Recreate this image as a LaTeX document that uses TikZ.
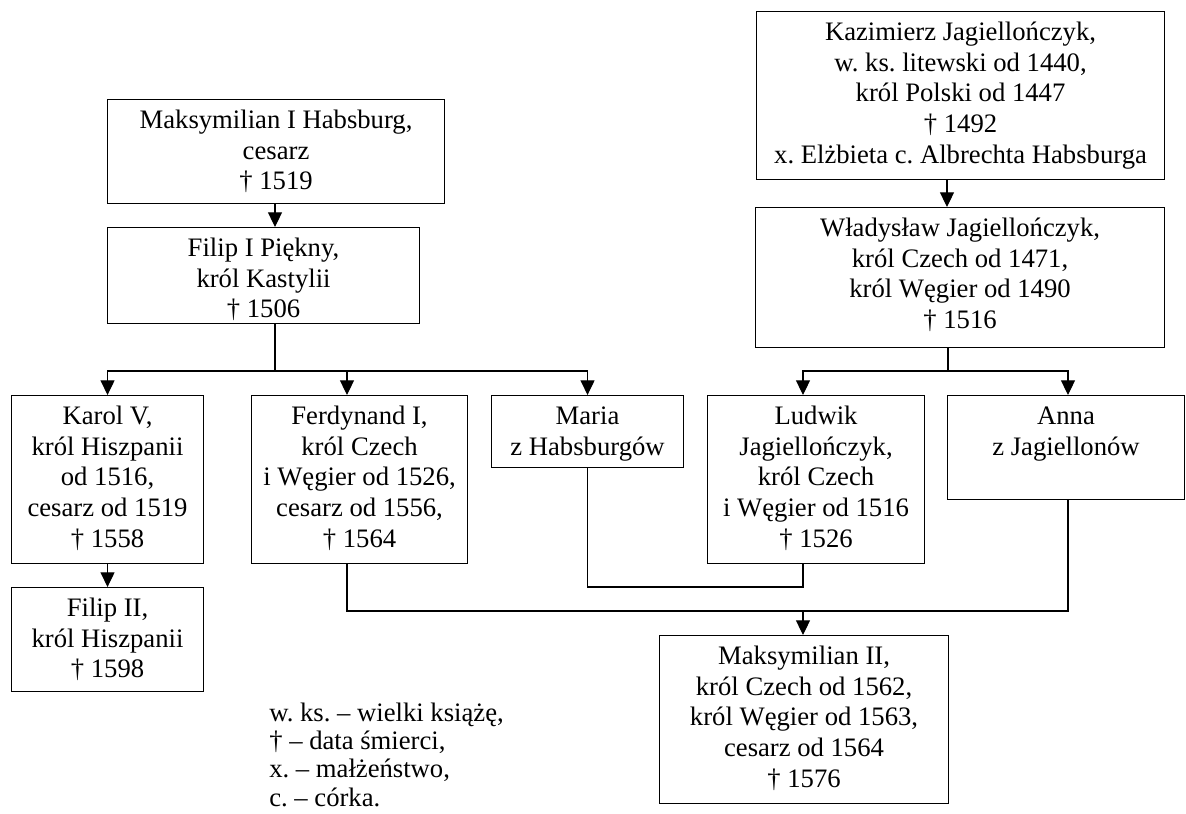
\documentclass[tikz,border=0pt]{standalone}
\usepackage{fontspec}
\setmainfont{Liberation Serif}
\usetikzlibrary{arrows.meta}
\frenchspacing
\newdimen\pxu \pxu=0.75pt
\newcommand\famtext[3]{\parbox[c][#2\pxu][t]{#1\pxu}{\centering\fontsize{20}{23}\selectfont\rule{0pt}{29\pxu}#3}}
\tikzset{
  fam/.style={draw, line width=0.8pt, inner sep=0pt, anchor=north west},
  conn/.style={line width=0.8pt},
  arr/.style={conn, -{Triangle[length=11pt,width=10.5pt]}}
}
\begin{document}
\begin{tikzpicture}[x=0.75pt, y=-0.75pt]
\useasboundingbox (0,0) rectangle (1186,814);

\node[fam] (maks1) at (107,99) {\famtext{337}{104}{Maksymilian I Habsburg,\\cesarz\\† 1519}};
\node[fam] (filip1) at (107,227) {\famtext{312}{96}{Filip I Piękny,\\król Kastylii\\† 1506}};
\node[fam] (kaz) at (756,11) {\famtext{408}{168}{Kazimierz Jagiellończyk,\\w. ks. litewski od 1440,\\król Polski od 1447\\† 1492\\x. Elżbieta c. Albrechta Habsburga}};
\node[fam] (wlad) at (755,207) {\famtext{409}{140}{Władysław Jagiellończyk,\\król Czech od 1471,\\król Węgier od 1490\\† 1516}};
\node[fam] (karol) at (11,395) {\famtext{192}{168}{Karol V,\\król Hiszpanii\\od 1516,\\cesarz od 1519\\† 1558}};
\node[fam] (ferd) at (251,395) {\famtext{216}{168}{Ferdynand I,\\król Czech\\i Węgier od 1526,\\cesarz od 1556,\\† 1564}};
\node[fam] (maria) at (491,395) {\famtext{192}{72}{Maria\\z Habsburgów}};
\node[fam] (ludwik) at (707,395) {\famtext{217}{168}{Ludwik\\Jagiellończyk,\\król Czech\\i Węgier od 1516\\† 1526}};
\node[fam] (anna) at (947,395) {\famtext{237}{104}{Anna\\z Jagiellonów}};
\node[fam] (filip2) at (11,587) {\famtext{192}{104}{Filip II,\\król Hiszpanii\\† 1598}};
\node[fam] (maks2) at (659,635) {\famtext{289}{168}{Maksymilian II,\\król Czech od 1562,\\król Węgier od 1563,\\cesarz od 1564\\† 1576}};

\node[inner sep=0pt, anchor=north west] (legend) at (269,700) {\parbox[t]{320\pxu}{\fontsize{20}{21.25}\selectfont\rule{0pt}{21\pxu}w. ks. – wielki książę,\\† – data śmierci,\\x. – małżeństwo,\\c. – córka.}};

\coordinate (xm) at (275,0);
\coordinate (xf) at (347,0);
\coordinate (xk) at (947,0);
\coordinate (xl) at (803,0);
\coordinate (xa) at (1068,0);
\coordinate (j1) at (275,371);
\coordinate (j2) at (948,371);
\coordinate (j3) at (0,587);
\coordinate (j4) at (0,611);

\draw[arr] (maks1.south -| xm) -- (filip1.north -| xm);
\draw[arr] (kaz.south -| xk) -- (wlad.north -| xk);

\draw[conn] (filip1.south -| j1) -- (j1);
\draw[arr] (j1) -| (karol.north);
\draw[arr] (j1) -| (ferd.north -| xf);
\draw[arr] (j1) -| (maria.north);

\draw[conn] (wlad.south -| j2) -- (j2);
\draw[arr] (j2) -| (ludwik.north -| xl);
\draw[arr] (j2) -| (anna.north -| xa);

\draw[arr] (karol.south) -- (filip2.north);

\draw[conn] (maria.south) -- (maria.south |- j3) -| (ludwik.south -| xl);
\draw[conn] (ferd.south -| xf) -- (xf |- j4) -| (anna.south -| xa);
\draw[arr] (xl |- j4) -- (maks2.north -| xl);
\end{tikzpicture}
\end{document}
